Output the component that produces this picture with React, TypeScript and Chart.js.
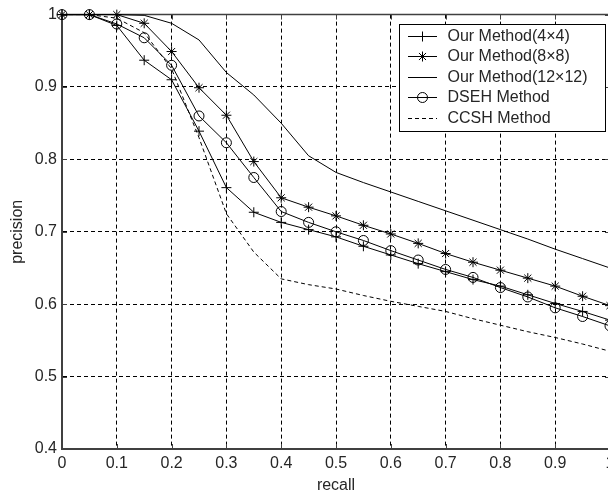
import React, { useEffect, useRef } from 'react';
import { Chart, registerables } from 'chart.js';

Chart.register(...registerables);

const recall = [0, 0.05, 0.1, 0.15, 0.2, 0.25, 0.3, 0.35, 0.4, 0.45, 0.5, 0.55, 0.6, 0.65, 0.7, 0.75, 0.8, 0.85, 0.9, 0.95, 1.0];

const ourMethod4x4 = [1, 1, 0.985, 0.937, 0.91, 0.839, 0.761, 0.727, 0.713, 0.703, 0.693, 0.68, 0.668, 0.656, 0.645, 0.634, 0.625, 0.613, 0.601, 0.59, 0.578];
const ourMethod8x8 = [1, 1, 1.0, 0.988, 0.949, 0.899, 0.861, 0.797, 0.747, 0.734, 0.722, 0.709, 0.697, 0.684, 0.67, 0.658, 0.647, 0.636, 0.625, 0.611, 0.598];
const ourMethod12x12 = [1, 1, 1.0, 0.999, 0.988, 0.965, 0.92, 0.889, 0.85, 0.805, 0.782, 0.768, 0.755, 0.742, 0.729, 0.716, 0.703, 0.69, 0.676, 0.663, 0.65];
const dsehMethod = [1, 1, 0.987, 0.968, 0.93, 0.86, 0.823, 0.775, 0.728, 0.713, 0.7, 0.688, 0.674, 0.661, 0.648, 0.637, 0.623, 0.61, 0.595, 0.583, 0.57];
const ccshMethod = [1, 1, 0.995, 0.975, 0.925, 0.83, 0.725, 0.672, 0.635, 0.627, 0.621, 0.612, 0.604, 0.597, 0.59, 0.58, 0.571, 0.562, 0.554, 0.545, 0.535];

const seriesLabels = ['Our Method(4×4)', 'Our Method(8×8)', 'Our Method(12×12)', 'DSEH Method', 'CCSH Method'];
const xTickValues = [0, 0.1, 0.2, 0.3, 0.4, 0.5, 0.6, 0.7, 0.8, 0.9, 1];
const yTickValues = [0.4, 0.5, 0.6, 0.7, 0.8, 0.9, 1];

const FONT = '"Liberation Sans", Arial, Helvetica, sans-serif';
const TEXT = '#262626';
const AXIS = '#404040';

function drawMarker(ctx: CanvasRenderingContext2D, style: string, x: number, y: number, r: number) {
  ctx.beginPath();
  if (style === 'cross') {
    ctx.moveTo(x - r, y); ctx.lineTo(x + r, y);
    ctx.moveTo(x, y - r); ctx.lineTo(x, y + r);
  } else if (style === 'star') {
    ctx.moveTo(x - r, y); ctx.lineTo(x + r, y);
    ctx.moveTo(x, y - r); ctx.lineTo(x, y + r);
    const d = r * Math.SQRT1_2;
    ctx.moveTo(x - d, y - d); ctx.lineTo(x + d, y + d);
    ctx.moveTo(x - d, y + d); ctx.lineTo(x + d, y - d);
  } else if (style === 'circle') {
    ctx.arc(x, y, r, 0, Math.PI * 2);
  }
  ctx.stroke();
}

const framePlugin = {
  id: 'frame',
  beforeDatasetsDraw(chart: any) {
    const { ctx, chartArea } = chart;
    const { left, right, top, bottom } = chartArea;
    const xs = chart.scales.x;
    const ys = chart.scales.y;
    ctx.save();
    ctx.strokeStyle = AXIS;
    ctx.lineWidth = 1.5;
    ctx.setLineDash([]);
    ctx.beginPath();
    ctx.moveTo(left, top); ctx.lineTo(right, top);
    ctx.moveTo(right, top); ctx.lineTo(right, bottom);
    ctx.stroke();
    ctx.lineWidth = 1;
    ctx.beginPath();
    for (const v of xTickValues) {
      const px = Math.round(xs.getPixelForValue(v)) + 0.5;
      ctx.moveTo(px, bottom); ctx.lineTo(px, bottom - 5);
      ctx.moveTo(px, top); ctx.lineTo(px, top + 5);
    }
    for (const v of yTickValues) {
      const py = Math.round(ys.getPixelForValue(v)) + 0.5;
      ctx.moveTo(left, py); ctx.lineTo(left + 5, py);
      ctx.moveTo(right, py); ctx.lineTo(right - 5, py);
    }
    ctx.stroke();
    ctx.restore();
  },
};

const legendPlugin = {
  id: 'matlabLegend',
  afterDraw(chart: any) {
    const { ctx } = chart;
    const boxL = 399.5, boxT = 24.5, boxW = 206, boxH = 107;
    ctx.save();
    ctx.fillStyle = '#ffffff';
    ctx.fillRect(boxL, boxT, boxW, boxH);
    ctx.strokeStyle = '#000000';
    ctx.lineWidth = 1;
    ctx.setLineDash([]);
    ctx.strokeRect(boxL, boxT, boxW, boxH);
    const styles = ['cross', 'star', 'none', 'circle', 'none'];
    const dashes = [[], [], [], [], [4, 3]];
    ctx.font = `16px ${FONT}`;
    ctx.textBaseline = 'middle';
    ctx.textAlign = 'left';
    for (let i = 0; i < seriesLabels.length; i++) {
      const y = Math.round(boxT + 11.5 + i * 20.4) + 0.5;
      ctx.strokeStyle = '#000000';
      ctx.lineWidth = 1;
      ctx.setLineDash(dashes[i]);
      ctx.beginPath();
      ctx.moveTo(408, y); ctx.lineTo(437, y);
      ctx.stroke();
      ctx.setLineDash([]);
      if (styles[i] !== 'none') drawMarker(ctx, styles[i], 422.5, y, 5);
      ctx.fillStyle = TEXT;
      ctx.fillText(seriesLabels[i], 447.5, y + 0.5);
    }
    ctx.restore();
  },
};

export default function App() {
  const canvasRef = useRef<HTMLCanvasElement | null>(null);

  useEffect(() => {
    const canvas = canvasRef.current;
    if (!canvas) return;
    const mk = (data: number[]) => recall.map((x, i) => ({ x, y: data[i] }));
    const base = {
      borderColor: '#000000',
      borderWidth: 1,
      tension: 0,
      fill: false,
      clip: false,
      pointBorderColor: '#000000',
      pointBackgroundColor: 'rgba(0,0,0,0)',
      pointBorderWidth: 1,
      pointHoverRadius: 0,
    };
    const chart = new Chart(canvas, {
      type: 'line',
      data: {
        datasets: [
          { ...base, label: seriesLabels[0], data: mk(ourMethod4x4), pointStyle: 'cross', pointRadius: 5 },
          { ...base, label: seriesLabels[1], data: mk(ourMethod8x8), pointStyle: 'star', pointRadius: 5 },
          { ...base, label: seriesLabels[2], data: mk(ourMethod12x12), pointRadius: 0 },
          { ...base, label: seriesLabels[3], data: mk(dsehMethod), pointStyle: 'circle', pointRadius: 5 },
          { ...base, label: seriesLabels[4], data: mk(ccshMethod), pointRadius: 0, borderDash: [4, 3] },
        ],
      },
      options: {
        animation: false,
        responsive: false,
        devicePixelRatio: 1,
        events: [],
        layout: { padding: { top: 14, right: 10, left: 0, bottom: 0 } },
        plugins: { legend: { display: false }, tooltip: { enabled: false } },
        scales: {
          x: {
            type: 'linear',
            min: 0,
            max: 1,
            afterFit: (s: any) => { s.height = 48; },
            afterBuildTicks: (s: any) => { s.ticks = xTickValues.map((v) => ({ value: v })); },
            ticks: {
              padding: 5,
              color: TEXT,
              font: { family: FONT, size: 16 },
              maxRotation: 0,
              autoSkip: false,
              callback: (v: any) => String(+(+v).toFixed(1)),
            },
            grid: { color: '#000000', lineWidth: 1, drawTicks: false },
            border: { display: true, color: AXIS, width: 2, dash: [4, 3] },
            title: { display: true, text: 'recall', color: TEXT, font: { family: FONT, size: 16 }, padding: { top: 0, bottom: 2 } },
          },
          y: {
            type: 'linear',
            min: 0.4,
            max: 1,
            afterFit: (s: any) => { s.width = 62; },
            afterBuildTicks: (s: any) => { s.ticks = yTickValues.map((v) => ({ value: v })); },
            ticks: {
              padding: 5,
              color: TEXT,
              font: { family: FONT, size: 16 },
              autoSkip: false,
              callback: (v: any) => String(+(+v).toFixed(1)),
            },
            grid: { color: '#000000', lineWidth: 1, drawTicks: false },
            border: { display: true, color: AXIS, width: 2, dash: [4, 3] },
            title: { display: true, text: 'precision', color: TEXT, font: { family: FONT, size: 16 }, padding: { top: 8, bottom: 0 } },
          },
        },
      },
      plugins: [framePlugin, legendPlugin],
    } as any);
    return () => chart.destroy();
  }, []);

  return (
    <div style={{ position: 'fixed', left: 0, top: 0, width: '608px', height: '497px', overflow: 'hidden', background: '#ffffff' }}>
      <canvas ref={canvasRef} width={620} height={497} style={{ display: 'block', width: '620px', height: '497px' }} />
    </div>
  );
}
